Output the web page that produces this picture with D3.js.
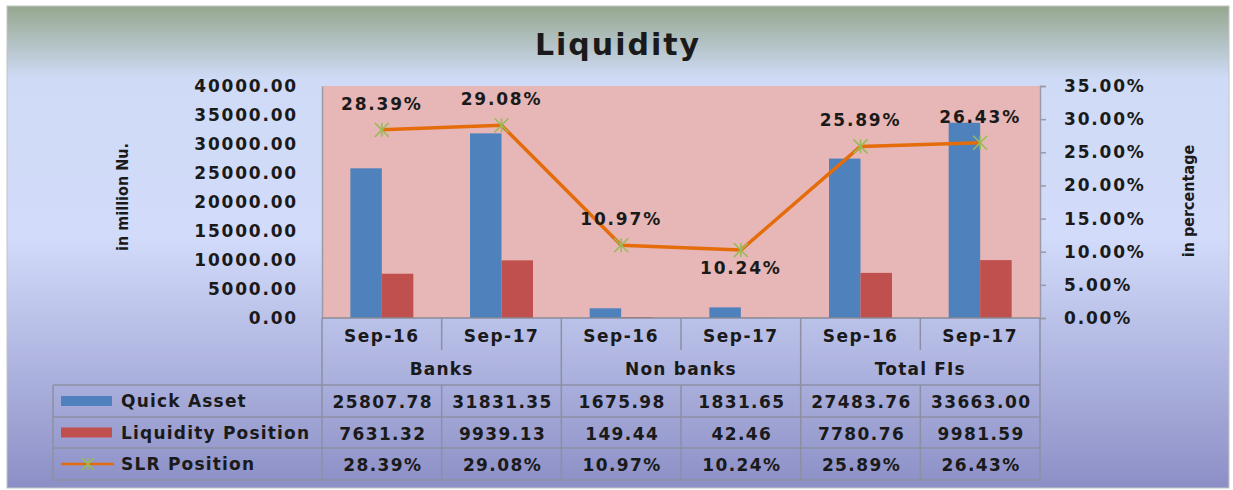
<!DOCTYPE html>
<html>
<head>
<meta charset="utf-8">
<script src="https://cdn.jsdelivr.net/npm/d3@7"></script>
<style>
  body { margin: 0; background: #fff; }
  text { font-family: "DejaVu Sans", Verdana, sans-serif; font-weight: bold; fill: #1a1a1a; }
</style>
</head>
<body>
<div class="visContainer"></div>
<script>
// Chart data.
const periods = ['Sep-16', 'Sep-17', 'Sep-16', 'Sep-17', 'Sep-16', 'Sep-17'];
const groups = ['Banks', 'Non banks', 'Total FIs'];
const quickAsset = [25807.78, 31831.35, 1675.98, 1831.65, 27483.76, 33663.00];
const liquidityPosition = [7631.32, 9939.13, 149.44, 42.46, 7780.76, 9981.59];
const slrPosition = [28.39, 29.08, 10.97, 10.24, 25.89, 26.43];
const leftTicks = [0, 5000, 10000, 15000, 20000, 25000, 30000, 35000, 40000];
const rightTicks = [0, 5, 10, 15, 20, 25, 30, 35];
const seriesNames = ['Quick Asset', 'Liquidity Position', 'SLR Position'];

// SVG constants.
const width = 1233;
const height = 490;
const plot = { left: 322, right: 1040, top: 86, bottom: 318 };
const blue = '#4f81bd', red = '#c0504d', orange = '#e46c0a', green = '#9bbb59';
const gridColor = '#8e8fa3';

const svg = d3.select('.visContainer')
              .append('svg')
              .attr('width', width)
              .attr('height', height);

// Background gradient.
const grad = svg.append('defs').append('linearGradient')
                .attr('id', 'bg').attr('x1', 0).attr('y1', 0).attr('x2', 0).attr('y2', 1);
grad.append('stop').attr('offset', '0%').attr('stop-color', '#95a78e');
grad.append('stop').attr('offset', '15%').attr('stop-color', '#cfdbf6');
grad.append('stop').attr('offset', '48%').attr('stop-color', '#d2dbfa');
grad.append('stop').attr('offset', '100%').attr('stop-color', '#8c8fc6');

svg.append('rect')
   .attr('x', 7).attr('y', 6)
   .attr('width', 1222).attr('height', 482)
   .attr('fill', 'url(#bg)')
   .attr('stroke', '#c4c4c4');

// Title.
svg.append('text')
   .attr('x', 618).attr('y', 55)
   .attr('text-anchor', 'middle')
   .attr('font-size', 30)
   .attr('letter-spacing', 2)
   .text('Liquidity');

// Scales.
const x = d3.scaleBand()
            .domain(d3.range(periods.length))
            .range([plot.left, plot.right]);

const xInner = d3.scaleBand()
                 .domain(['q', 'l'])
                 .range([0, x.bandwidth()])
                 .paddingOuter(0.9)
                 .paddingInner(0);

const yLeft = d3.scaleLinear().domain([0, 40000]).range([plot.bottom, plot.top]);
const yRight = d3.scaleLinear().domain([0, 35]).range([plot.bottom, plot.top]);

// Plot background.
svg.append('rect')
   .attr('x', plot.left).attr('y', plot.top)
   .attr('width', plot.right - plot.left)
   .attr('height', plot.bottom - plot.top)
   .attr('fill', '#e6b7b6');

// Bars.
svg.selectAll('rect.quick')
   .data(quickAsset)
   .enter()
   .append('rect')
   .attr('class', 'quick')
   .attr('x', (d, i) => x(i) + xInner('q'))
   .attr('y', (d) => yLeft(d))
   .attr('width', xInner.bandwidth())
   .attr('height', (d) => yLeft(0) - yLeft(d))
   .attr('fill', blue);

svg.selectAll('rect.liq')
   .data(liquidityPosition)
   .enter()
   .append('rect')
   .attr('class', 'liq')
   .attr('x', (d, i) => x(i) + xInner('l'))
   .attr('y', (d) => yLeft(d))
   .attr('width', xInner.bandwidth())
   .attr('height', (d) => yLeft(0) - yLeft(d))
   .attr('fill', red);

// Left axis.
const leftAxis = svg.append('g')
                    .attr('transform', 'translate(' + plot.left + ',0)')
                    .call(d3.axisLeft(yLeft).tickValues(leftTicks).tickSize(0).tickPadding(24)
                            .tickFormat(d3.format('.2f')));
leftAxis.select('.domain').attr('stroke', '#9a9aa8').attr('stroke-width', 1.5);
leftAxis.selectAll('text')
        .attr('font-size', 17).attr('letter-spacing', 1.8).attr('fill', '#1a1a1a');
leftAxis.attr('font-family', null);

// Right axis.
const rightAxis = svg.append('g')
                     .attr('transform', 'translate(' + plot.right + ',0)')
                     .call(d3.axisRight(yRight).tickValues(rightTicks).tickSize(6).tickPadding(18)
                             .tickFormat((d) => d.toFixed(2) + '%'));
rightAxis.select('.domain').attr('stroke', '#9a9aa8').attr('stroke-width', 1.5);
rightAxis.selectAll('line').attr('stroke', '#9a9aa8').attr('stroke-width', 1.5);
rightAxis.selectAll('text')
         .attr('font-size', 17).attr('letter-spacing', 1.8).attr('fill', '#1a1a1a');
rightAxis.attr('font-family', null);

// Axis titles.
svg.append('text')
   .attr('transform', 'translate(128,197) rotate(-90)')
   .attr('text-anchor', 'middle')
   .attr('font-size', 16)
   .style('font-family', '"DejaVu Sans Condensed", "DejaVu Sans", sans-serif')
   .style('font-stretch', 'condensed')
   .text('in million Nu.');

svg.append('text')
   .attr('transform', 'translate(1194,201) rotate(-90)')
   .attr('text-anchor', 'middle')
   .attr('font-size', 16)
   .style('font-family', '"DejaVu Sans Condensed", "DejaVu Sans", sans-serif')
   .style('font-stretch', 'condensed')
   .text('in percentage');

// SLR line.
const cx = (d, i) => x(i) + x.bandwidth() / 2;
const line = d3.line()
               .x(cx)
               .y((d) => yRight(d));

svg.append('path')
   .datum(slrPosition)
   .attr('d', line)
   .attr('fill', 'none')
   .attr('stroke', orange)
   .attr('stroke-width', 3.5)
   .attr('stroke-linejoin', 'round');

const star = (s) => 'M' + -s + ',' + -s + 'L' + s + ',' + s +
                    'M' + -s + ',' + s + 'L' + s + ',' + -s +
                    'M0,' + -s + 'L0,' + s;

svg.selectAll('path.marker')
   .data(slrPosition)
   .enter()
   .append('path')
   .attr('class', 'marker')
   .attr('transform', (d, i) => 'translate(' + cx(d, i) + ',' + yRight(d) + ')')
   .attr('d', star(7))
   .attr('fill', 'none')
   .attr('stroke', green)
   .attr('stroke-width', 1.6);

// Data labels (one sits below its point).
const labelBelow = [false, false, false, true, false, false];
svg.selectAll('text.slr')
   .data(slrPosition)
   .enter()
   .append('text')
   .attr('class', 'slr')
   .attr('x', cx)
   .attr('y', (d, i) => yRight(d) + (labelBelow[i] ? 24 : -20))
   .attr('text-anchor', 'middle')
   .attr('font-size', 17)
   .attr('letter-spacing', 1.8)
   .text((d) => d.toFixed(2) + '%');

// Data table.
const tickRowBottom = 352;
const groupRowBottom = 385;
const rowH = [385, 417, 448, 480];
const tableLeft = 53;
const grid = svg.append('g')
                .attr('stroke', gridColor)
                .attr('stroke-width', 1.5)
                .attr('fill', 'none');

// X axis line.
grid.append('line')
    .attr('x1', plot.left).attr('x2', plot.right)
    .attr('y1', plot.bottom).attr('y2', plot.bottom)
    .attr('stroke', '#8a8a96');

// Vertical separators in the category row.
d3.range(periods.length + 1).forEach((i) => {
    const xx = i < periods.length ? x(i) : plot.right;
    grid.append('line')
        .attr('x1', xx).attr('x2', xx)
        .attr('y1', plot.bottom).attr('y2', tickRowBottom - 2);
});

// Group boundaries.
[0, 2, 4, 6].forEach((i) => {
    const xx = i < periods.length ? x(i) : plot.right;
    grid.append('line')
        .attr('x1', xx).attr('x2', xx)
        .attr('y1', tickRowBottom - 2).attr('y2', groupRowBottom);
});

// Data row lines.
rowH.forEach((yy) => {
    grid.append('line')
        .attr('x1', tableLeft).attr('x2', plot.right)
        .attr('y1', yy).attr('y2', yy);
});
[tableLeft].concat(d3.range(periods.length).map((i) => x(i)), [plot.right]).forEach((xx) => {
    grid.append('line')
        .attr('x1', xx).attr('x2', xx)
        .attr('y1', rowH[0]).attr('y2', rowH[3]);
});

// Category labels.
svg.selectAll('text.period')
   .data(periods)
   .enter()
   .append('text')
   .attr('class', 'period')
   .attr('x', (d, i) => cx(d, i))
   .attr('y', 342)
   .attr('text-anchor', 'middle')
   .attr('font-size', 17)
   .attr('letter-spacing', 1.5)
   .text((d) => d);

svg.selectAll('text.group')
   .data(groups)
   .enter()
   .append('text')
   .attr('class', 'group')
   .attr('x', (d, i) => x(i * 2 + 1))
   .attr('y', 375)
   .attr('text-anchor', 'middle')
   .attr('font-size', 17)
   .attr('letter-spacing', 1.2)
   .text((d) => d);

// Table values.
const rows = [
    quickAsset.map((d) => d.toFixed(2)),
    liquidityPosition.map((d) => d.toFixed(2)),
    slrPosition.map((d) => d.toFixed(2) + '%')
];
rows.forEach((vals, r) => {
    svg.selectAll('text.row' + r)
       .data(vals)
       .enter()
       .append('text')
       .attr('class', 'row' + r)
       .attr('x', (d, i) => cx(d, i) + 1)
       .attr('y', (rowH[r] + rowH[r + 1]) / 2 + 7)
       .attr('text-anchor', 'middle')
       .attr('font-size', 17)
       .attr('letter-spacing', 1.4)
       .text((d) => d);
});

// Legend keys.
const legend = svg.append('g');
seriesNames.forEach((name, r) => {
    const ym = (rowH[r] + rowH[r + 1]) / 2;
    if (r === 0 || r === 1) {
        legend.append('rect')
              .attr('x', 61).attr('y', ym - 5)
              .attr('width', 51).attr('height', 10)
              .attr('fill', r === 0 ? blue : red);
    } else {
        legend.append('line')
              .attr('x1', 61).attr('x2', 114)
              .attr('y1', ym).attr('y2', ym)
              .attr('stroke', orange).attr('stroke-width', 2.5);
        legend.append('path')
              .attr('transform', 'translate(88,' + ym + ')')
              .attr('d', star(6))
              .attr('fill', 'none')
              .attr('stroke', green)
              .attr('stroke-width', 1.5);
    }
    legend.append('text')
          .attr('x', 121)
          .attr('y', ym + 6)
          .attr('font-size', 17)
          .attr('letter-spacing', 1.2)
          .text(name);
});
</script>
</body>
</html>
